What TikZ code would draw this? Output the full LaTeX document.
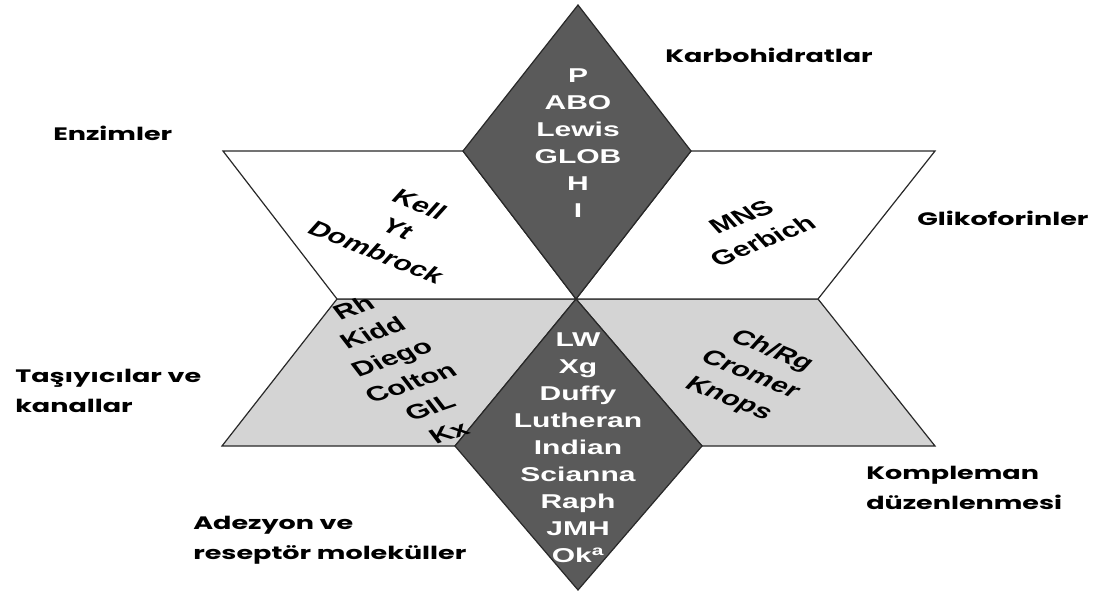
\documentclass[tikz,border=0pt]{standalone}
\usepackage{fontspec}
\newfontfamily\innerfont{Liberation Sans}
\newfontfamily\labelfont{Poppins}
\definecolor{dkgray}{RGB}{90,90,90}
\definecolor{ltgray}{RGB}{212,212,212}
\definecolor{edge}{RGB}{40,40,40}
\begin{document}
\begin{tikzpicture}[x=1pt,y=-1pt,
  piece/.style={draw=edge, line width=1.2pt, line join=miter},
  darkpiece/.style={piece, fill=dkgray},
  lightpiece/.style={piece, fill=ltgray},
  whitepiece/.style={piece, fill=white},
  innertxt/.style={font=\innerfont\bfseries\fontsize{20}{27}\selectfont, align=center, xscale=1.5, inner sep=0pt},
  whitetxt/.style={innertxt, text=white},
  blacktxt/.style={innertxt, text=black, font=\innerfont\bfseries\fontsize{20.5}{28}\selectfont},
  lbl/.style={font=\labelfont\bfseries\fontsize{18}{29.5}\selectfont, align=left, anchor=west, xscale=1.5, inner sep=0pt}
]
\fill[white] (0,0) rectangle (1094,591);
\useasboundingbox (0,0) rectangle (1094,591);

% key points
\coordinate (C) at (576,299);
\coordinate (T) at (578,5);
\coordinate (TL) at (463,151);
\coordinate (TR) at (691,151);
\coordinate (LW1) at (223,151);
\coordinate (LW2) at (337,299);
\coordinate (RW1) at (935,151);
\coordinate (RW2) at (818,299);
\coordinate (GL) at (222,446);
\coordinate (BL) at (455,446);
\coordinate (GR) at (935,446);
\coordinate (BR) at (702,446);
\coordinate (B) at (578,590);

% gray band
\draw[lightpiece] (LW2) -- (C) -- (BL) -- (GL) -- cycle;
\draw[lightpiece] (C) -- (RW2) -- (GR) -- (BR) -- cycle;
% white parallelograms
\draw[whitepiece] (LW1) -- (TL) -- (C) -- (LW2) -- cycle;
\draw[whitepiece] (TR) -- (RW1) -- (RW2) -- (C) -- cycle;
% diamonds
\draw[darkpiece] (T) -- (TR) -- (C) -- (TL) -- cycle;
\draw[darkpiece] (C) -- (BR) -- (B) -- (BL) -- cycle;

% inner texts
\node[whitetxt] (carb) at (578,143) {P\\ABO\\Lewis\\GLOB\\H\\I};
\node[whitetxt] (adh) at (578,448) {LW\\Xg\\Duffy\\Lutheran\\Indian\\Scianna\\Raph\\JMH\\Ok\textsuperscript{a}};
\node[blacktxt, rotate=-31] (enz) at (398,228) {Kell\\Yt\\Dombrock};
\node[blacktxt, rotate=31] (gly) at (752,229) {MNS\\Gerbich};
\node[blacktxt, rotate=27] (trn) at (401,370) {Rh\\Kidd\\Diego\\Colton\\GIL\\Kx};
\node[blacktxt, rotate=-31] (cmp) at (750,375) {Ch/Rg\\Cromer\\Knops};

% outer labels
\node[lbl] (lcarb) at (665,55) {Karbohidratlar};
\node[lbl] (lenz) at (53,133) {Enzimler};
\node[lbl] (lgly) at (917,218) {Glikoforinler};
\node[lbl] (ltrn) at (15,391) {Taşıyıcılar ve\\kanallar};
\node[lbl] (lcmp) at (866,488) {Kompleman\\düzenlenmesi};
\node[lbl] (ladh) at (193,540) {Adezyon ve\\reseptör moleküller};
\end{tikzpicture}
\end{document}
